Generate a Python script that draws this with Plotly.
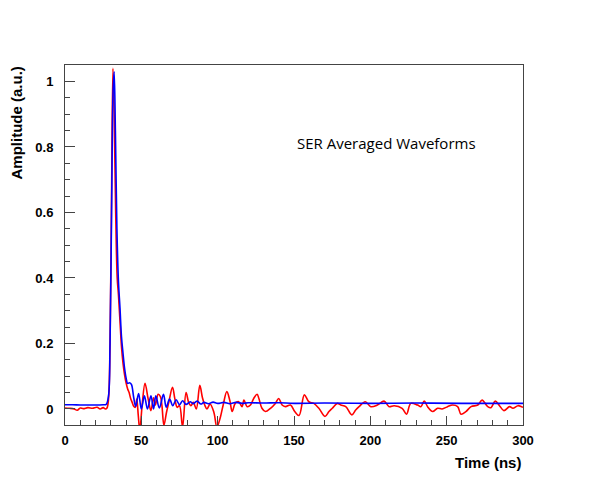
import plotly.graph_objects as go

# ---- data (time in ns, amplitude in a.u.) ----
red_t = [0, 3, 6, 8, 10, 12, 15, 18, 21, 23, 25, 26.5, 27.5, 28.5, 29.5, 30.5, 31.4, 32.2, 33.2, 34.2,
         35, 36, 37, 38, 39, 40, 41, 42, 43, 44, 45, 46, 47, 48, 49, 50.5, 52.4, 54.5, 56.3, 58,
         59.2, 61, 62.5, 63.5, 64.8, 66.5, 68, 70.4, 72, 73.5, 75, 77, 79.3, 81, 82.5, 84, 86,
         88.3, 90, 91.5, 93, 95, 97.5, 99.5, 101.5, 103.5, 106, 108, 109.5, 111.5, 113.8, 116,
         117.2, 119.3, 121.5, 123.6, 125.8, 127, 129, 131.3, 134.6, 137.8, 140, 142.2, 144.4,
         147.7, 150.5, 153.3, 156.8, 159.7, 163, 166.3, 170.3, 172.9, 175.1, 178.4, 180.6, 183.9,
         187.9, 190.4, 192.6, 196.7, 200.3, 204.6, 209, 212.3, 215.6, 220.8, 223.7, 226.5, 230.9,
         233.1, 235.3, 237.5, 240.8, 244.1, 247, 250.6, 253.9, 257.2, 259.4, 262.6, 266, 270.4,
         273.2, 276.9, 279, 281.8, 284.6, 287.5, 291.2, 293.4, 296.7, 300]
red_a = [0.003, 0.002, 0.0, -0.004, 0.003, 0.001, 0.004, 0.002, 0.005, 0.0, 0.004, 0.0, 0.003, 0.03, 0.2, 0.65, 1.04, 0.9, 0.6, 0.4,
         0.35, 0.27, 0.19, 0.14, 0.105, 0.08, 0.062, 0.05, 0.032, 0.02, 0.008, 0.005, 0.03, -0.02, -0.065, 0.01, 0.078, 0.03, -0.005, 0.034,
         0.012, 0.045, 0.038, 0.01, -0.05, -0.01, 0.02, 0.066, 0.03, 0.005, 0.01, -0.055, 0.05, 0.02, 0.01, 0.02, 0.0,
         0.072, 0.035, 0.012, 0.0, 0.015, -0.01, -0.055, -0.03, 0.01, 0.053, 0.025, -0.008, 0.017, 0.022, 0.007,
         0.027, 0.007, 0.012, 0.032, 0.045, 0.032, 0.002, -0.008, 0.002, 0.017, 0.032, 0.012, 0.007,
         0.012, -0.008, -0.02, 0.043, 0.022, 0.017, 0.002, -0.023, -0.008, 0.002, 0.017, 0.012, 0.007,
         -0.018, -0.003, 0.007, 0.022, 0.007, 0.012, 0.024, 0.007, 0.01, 0.002, -0.016, 0.017, 0.012,
         0.007, 0.024, 0.007, -0.008, 0.002, 0.0, 0.007, 0.012, 0.007, -0.016, -0.008, 0.007, 0.012,
         0.027, 0.007, 0.004, 0.024, 0.01, -0.005, 0.007, 0.002, 0.01, 0.005]

blue_t = [0, 5, 10, 15, 20, 25, 27, 28.5, 29.5, 30.5, 31.5, 32.2, 33, 34, 35, 36, 37, 38, 39, 40,
          41, 42.3, 43.5, 45, 46.3, 48.2, 50, 52, 54, 56.3, 58, 59.5, 61.8, 64.5, 66.3, 68.5, 70.6,
          72.8, 75, 77, 79.3, 82, 84, 86.5, 89, 91, 94, 97, 100, 104, 108, 112, 116, 120, 130,
          140, 150, 170, 200, 230, 260, 300]
blue_a = [0.013, 0.013, 0.012, 0.012, 0.012, 0.013, 0.014, 0.04, 0.2, 0.6, 0.97, 1.03, 0.85, 0.55, 0.39, 0.31, 0.22, 0.17, 0.125, 0.095,
          0.078, 0.08, 0.075, 0.035, 0.008, 0.047, 0.0, 0.04, 0.0, 0.04, 0.0, 0.04, 0.003, 0.045, 0.005, 0.03, 0.01,
          0.028, 0.013, 0.025, 0.014, 0.022, 0.016, 0.024, 0.015, 0.02, 0.016, 0.021, 0.017, 0.02, 0.016, 0.02, 0.017, 0.019, 0.018,
          0.019, 0.017, 0.018, 0.017, 0.018, 0.017, 0.017]

x_ticks = [0, 50, 100, 150, 200, 250, 300]
y_ticks = [0, 0.2, 0.4, 0.6, 0.8, 1]
y_tick_text = ["0", "0.2", "0.4", "0.6", "0.8", "1"]

fig = go.Figure()
fig.add_trace(go.Scatter(x=red_t, y=red_a, mode="lines",
                         line=dict(color="#ff0000", width=1.6, shape="spline", smoothing=1.0),
                         showlegend=False))
fig.add_trace(go.Scatter(x=blue_t, y=blue_a, mode="lines",
                         line=dict(color="#0000ff", width=1.6, shape="spline", smoothing=1.0),
                         showlegend=False))

tickfont = dict(family="Liberation Sans, Arial, sans-serif", size=13, color="black", weight="bold")

fig.update_xaxes(range=[0, 300], tickvals=x_ticks, ticktext=[str(v) for v in x_ticks],
                 ticks="inside", ticklen=9, tickcolor="#444", tickwidth=1,
                 minor=dict(dtick=10, ticks="inside", ticklen=5, tickcolor="#444", tickwidth=1),
                 showline=True, linecolor="#444", linewidth=1, mirror=True,
                 showgrid=False, zeroline=False, tickfont=tickfont, ticklabelstandoff=3)
fig.update_yaxes(range=[-0.049, 1.0504], tickvals=y_ticks, ticktext=y_tick_text,
                 ticks="inside", ticklen=10, tickcolor="#444", tickwidth=1,
                 minor=dict(dtick=0.05, ticks="inside", ticklen=5, tickcolor="#444", tickwidth=1),
                 showline=True, linecolor="#444", linewidth=1, mirror=True,
                 showgrid=False, zeroline=False, tickfont=tickfont, ticklabelstandoff=8)

fig.add_annotation(text="<b>Time (ns)</b>", xref="paper", yref="paper", x=1, y=0,
                   xanchor="right", yanchor="middle", yshift=-37, showarrow=False,
                   font=dict(family="Liberation Sans, Arial, sans-serif", size=15, color="black"))
fig.add_annotation(text="<b>Amplitude (a.u.)</b>", xref="paper", yref="paper", x=0, y=1,
                   xanchor="center", yanchor="top", xshift=-49, showarrow=False, textangle=-90,
                   font=dict(family="Liberation Sans, Arial, sans-serif", size=15, color="black"))
fig.add_annotation(text="SER Averaged Waveforms", x=150.5, y=0.812, xanchor="left", yanchor="middle",
                   showarrow=False, font=dict(family="Open Sans, sans-serif", size=15, color="black"))

fig.update_layout(width=589, height=491, margin=dict(l=57, r=74, t=57, b=74),
                  plot_bgcolor="white", paper_bgcolor="white")

fig.write_html("out.html")
